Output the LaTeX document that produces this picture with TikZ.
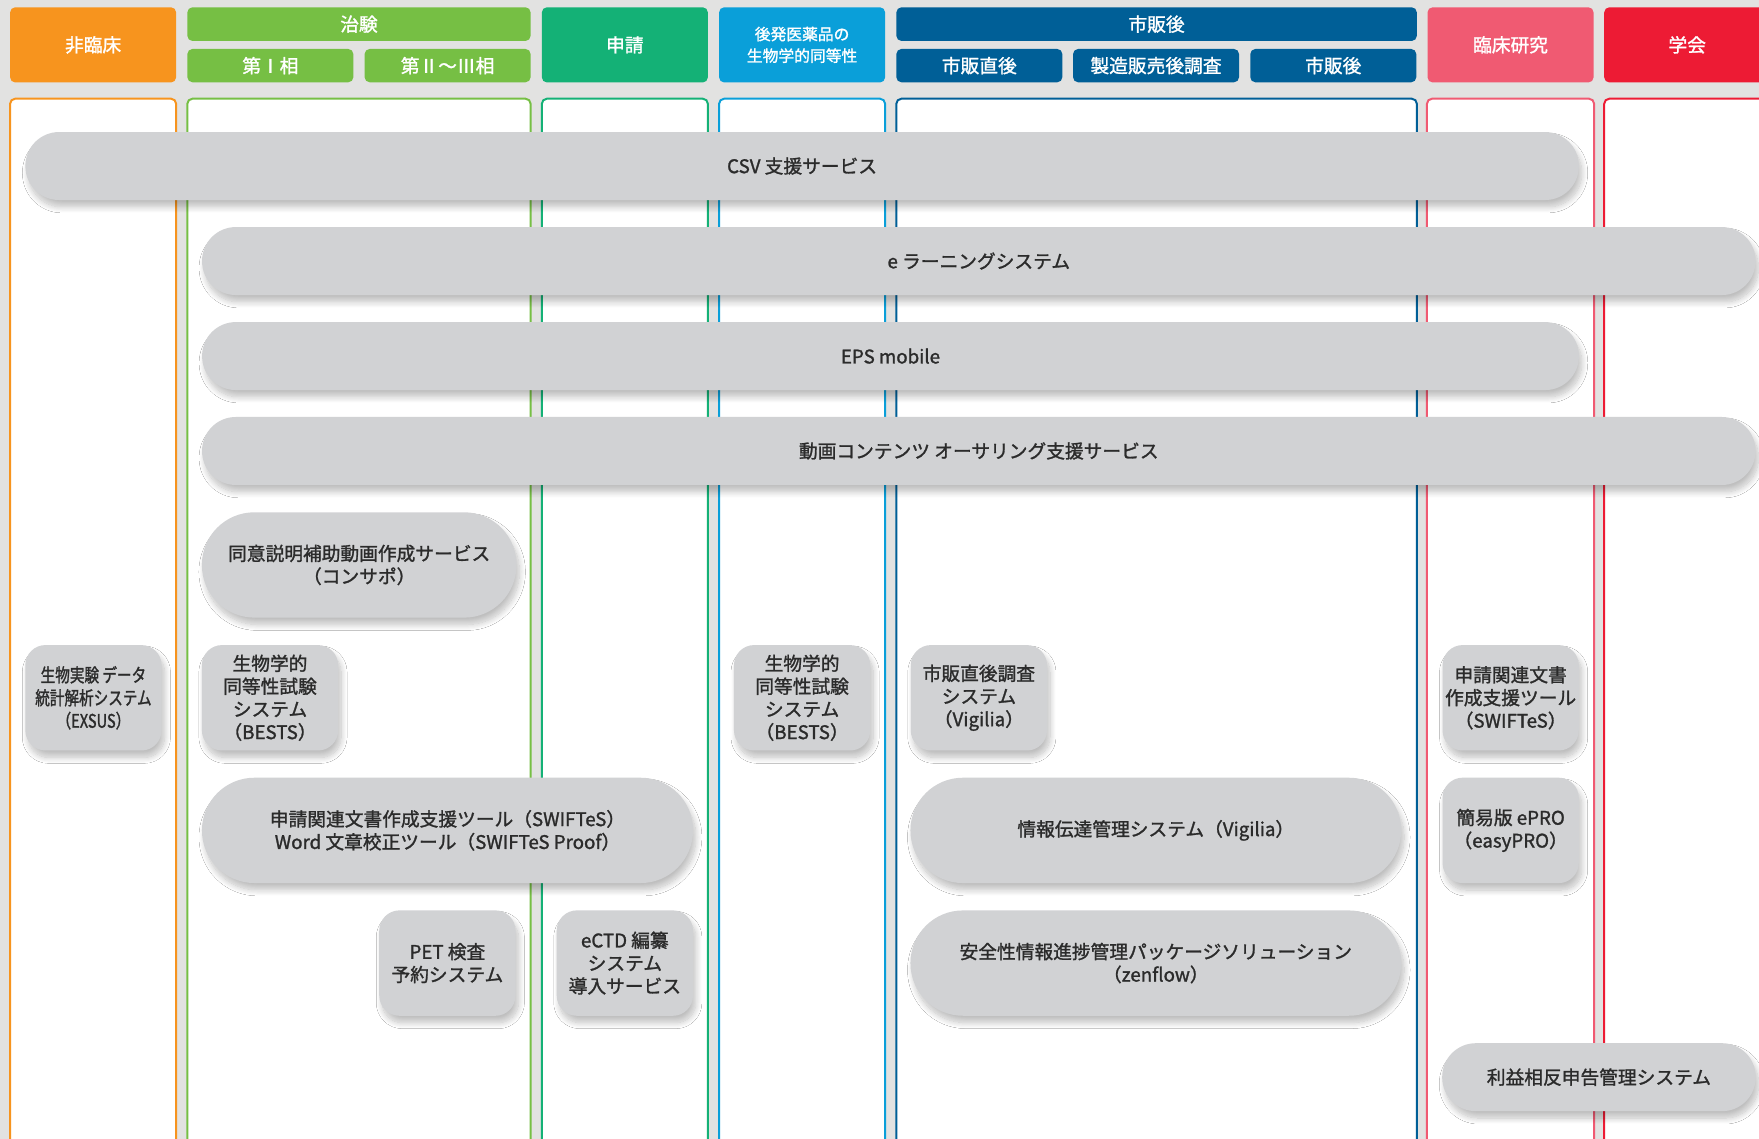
\documentclass[tikz,border=0pt]{standalone}
\usepackage{fontspec}
\setmainfont{Noto Sans CJK JP}[BoldFont={Noto Sans CJK JP}, BoldFeatures={FakeBold=1.4}]
\newfontfamily\jpcond{Noto Sans CJK JP}[FakeStretch=0.78, BoldFont={Noto Sans CJK JP}, BoldFeatures={FakeBold=1.4}]
\usetikzlibrary{shadows.blur}
\definecolor{cBg}{HTML}{E2E2E1}
\definecolor{cOrange}{HTML}{F7941E}
\definecolor{cGreen}{HTML}{76BF44}
\definecolor{cTeal}{HTML}{14B176}
\definecolor{cLBlue}{HTML}{0A9FD9}
\definecolor{cDBlue}{HTML}{005F97}
\definecolor{cPink}{HTML}{F05A72}
\definecolor{cRed}{HTML}{ED1B34}
\definecolor{cGray}{HTML}{D1D2D4}
\definecolor{cText}{HTML}{2B2B2B}
\tikzset{
  panel/.style={fill=white, line width=1pt, rounded corners=0.09cm},
  hdr/.style={rectangle, rounded corners=0.09cm, text=white, inner sep=0pt, align=center,
    font=\fontsize{9.5}{11.6}\selectfont\bfseries, minimum width=2.96cm},
  hdrtall/.style={hdr, minimum height=1.34cm},
  hdrtop/.style={hdr, minimum height=0.60cm},
  hdrsub/.style={hdr, minimum height=0.594cm},
  gbox/.style={rectangle, fill=cGray, text=cText, align=center, inner sep=0pt,
    font=\fontsize{9.5}{11.6}\selectfont\bfseries,
    blur shadow={shadow xshift=1.5pt, shadow yshift=-3.5pt, shadow blur radius=3pt, shadow blur steps=12, shadow opacity=25}},
  pillS/.style={gbox, rounded corners=0.6cm, minimum height=1.212cm},
  pillL/.style={gbox, rounded corners=0.935cm, minimum height=1.878cm},
  smallbox/.style={gbox, rounded corners=0.36cm, minimum width=2.43cm, minimum height=1.88cm},
}
\begin{document}
\begin{tikzpicture}[x=0.02cm, y=-0.02cm]
\useasboundingbox (0,0) rectangle (1568,1015.3);
\clip (0,0) rectangle (1568,1015.3);
\fill[cBg] (0,0) rectangle (1568,1015.3);

% column panels
\foreach \a/\b/\c in {9/157/cOrange, 167/473/cGreen, 483/631/cTeal, 641/789/cLBlue,
                      799/1263/cDBlue, 1272/1421/cPink, 1430/1578/cRed}
  \draw[panel, draw=\c] (\a,88) rectangle (\b,1100);

% headers
\node[hdrtall, fill=cOrange] (hNon) at (83,40) {非臨床};
\node[hdrtop, fill=cGreen, minimum width=6.12cm] (hTrial) at (320,21.5) {治験};
\node[hdrsub, fill=cGreen] (hP1) at (241,58.5) {第Ⅰ相};
\node[hdrsub, fill=cGreen] (hP23) at (399,58.5) {第Ⅱ～Ⅲ相};
\node[hdrtall, fill=cTeal] (hApp) at (557,40) {申請};
\node[hdrtall, fill=cLBlue, font=\fontsize{8}{11}\selectfont\bfseries] (hGen) at (715,40) {後発医薬品の\\生物学的同等性};
\node[hdrtop, fill=cDBlue, minimum width=9.28cm] (hPost) at (1031,21.5) {市販後};
\node[hdrsub, fill=cDBlue] (hPost1) at (873,58.5) {市販直後};
\node[hdrsub, fill=cDBlue] (hPost2) at (1030.5,58.5) {製造販売後調査};
\node[hdrsub, fill=cDBlue] (hPost3) at (1188.5,58.5) {市販後};
\node[hdrtall, fill=cPink] (hClin) at (1346.5,40) {臨床研究};
\node[hdrtall, fill=cRed] (hSoc) at (1504,40) {学会};

% wide bars
\node[pillS, minimum width=27.70cm] (csv) at (715,148) {CSV 支援サービス};
\node[pillS, minimum width=27.70cm] (elearn) at (872.5,232.7) {e ラーニングシステム};
\node[pillS, minimum width=24.55cm] (eps) at (793.8,317.4) {EPS mobile};
\node[pillS, minimum width=27.70cm] (movie) at (872.5,402) {動画コンテンツ オーサリング支援サービス};

% consent
\node[pillL, minimum width=5.61cm] (consapo) at (320.2,503.6) {同意説明補助動画作成サービス\\（コンサポ）};

% small boxes row
\node[smallbox] (exsus) at (83.3,622) {\jpcond\bfseries 生物実験 データ\\\jpcond\bfseries 統計解析システム\\\jpcond\bfseries （EXSUS）};
\node[smallbox] (bests1) at (240.7,622) {生物学的\\同等性試験\\システム\\（BESTS）};
\node[smallbox] (bests2) at (715,622) {生物学的\\同等性試験\\システム\\（BESTS）};
\node[smallbox] (vig1) at (872.6,622) {市販直後調査\\システム\\（Vigilia）};
\node[smallbox] (swift1) at (1346.6,622) {申請関連文書\\作成支援ツール\\（SWIFTeS）};

% second row
\node[pillL, minimum width=8.756cm] (swift2) at (398.9,740.2) {申請関連文書作成支援ツール（SWIFTeS）\\Word 文章校正ツール（SWIFTeS Proof）};
\node[pillL, minimum width=8.75cm] (vig2) at (1030.3,740.2) {情報伝達管理システム（Vigilia）};
\node[smallbox] (epro) at (1346.6,740.2) {簡易版 ePRO\\（easyPRO）};

% third row
\node[smallbox] (pet) at (398.8,858.5) {PET 検査\\予約システム};
\node[smallbox] (ectd) at (557,858.5) {eCTD 編纂\\システム\\導入サービス};
\node[pillL, minimum width=8.75cm] (zen) at (1030.3,858.5) {安全性情報進捗管理パッケージソリューション\\（zenflow）};

% bottom
\node[pillS, minimum width=5.59cm] (coi) at (1425.3,960.2) {利益相反申告管理システム};
\end{tikzpicture}
\end{document}
